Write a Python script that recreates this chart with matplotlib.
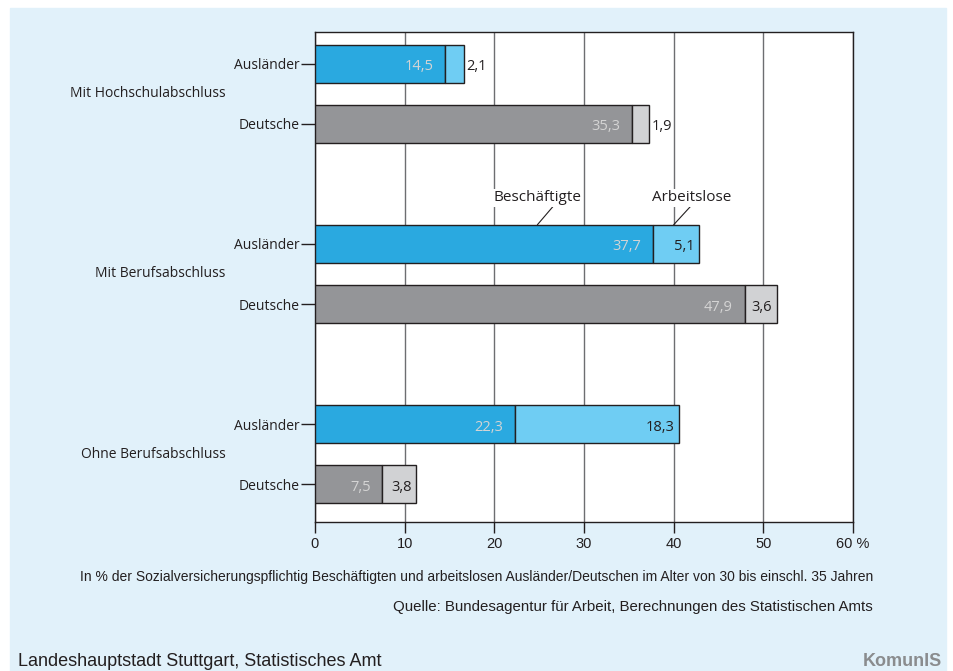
import matplotlib.pyplot as plt
from matplotlib.patches import Rectangle

plt.rcParams['font.family'] = ['Open Sans', 'DejaVu Sans']

# Daten
gruppen = ['Mit Hochschulabschluss', 'Mit Berufsabschluss', 'Ohne Berufsabschluss']
herkunft = ['Ausländer', 'Deutsche']
beschaeftigte = [[14.5, 35.3], [37.7, 47.9], [22.3, 7.5]]
arbeitslose = [[2.1, 1.9], [5.1, 3.6], [18.3, 3.8]]
xticks = [0, 10, 20, 30, 40, 50, 60]
xticklabels = ['0', '10', '20', '30', '40', '50', '60 %']

farbe_besch = {'Ausländer': '#2aa9e0', 'Deutsche': '#949598'}
farbe_alos = {'Ausländer': '#6fcdf3', 'Deutsche': '#d1d2d4'}

narrow = ['Liberation Sans', 'DejaVu Sans']

fig = plt.figure(figsize=(9.54, 6.71), dpi=100)
fig.patches.append(Rectangle((10 / 954, 0), 936 / 954, 663 / 671,
                             transform=fig.transFigure, color='#e1f1fa', zorder=-10))
ax = fig.add_axes([315 / 954, 1 - 522 / 671, 538 / 954, 490 / 671])
ax.set_facecolor('white')

ypos = []
ylab = []
for g in range(len(gruppen)):
    for m in range(len(herkunft)):
        y = g * 3 + m
        ypos.append(y)
        ylab.append(herkunft[m])
        b = beschaeftigte[g][m]
        a = arbeitslose[g][m]
        h = herkunft[m]
        ax.barh(y, b, height=0.64, color=farbe_besch[h], edgecolor='#231f20', linewidth=1, zorder=3)
        ax.barh(y, a, left=b, height=0.64, color=farbe_alos[h], edgecolor='#231f20', linewidth=1, zorder=3)
        ax.text(b - 1.3, y + 0.05, f'{b:.1f}'.replace('.', ','), ha='right', va='center',
                color='#d4d4d4', fontsize=10.5, zorder=4)
        lab = f'{a:.1f}'.replace('.', ',')
        if a < 3:
            ax.text(b + a + 0.3, y + 0.05, lab, ha='left', va='center', fontsize=10.5, color='#231f20', zorder=4)
        else:
            ax.text(b + a - 0.5, y + 0.05, lab, ha='right', va='center', fontsize=10.5, color='#231f20', zorder=4)
    ax.text(-10, g * 3 + 0.5, gruppen[g], ha='right', va='center', fontsize=10,
            color='#231f20', transform=ax.transData, clip_on=False)

ax.set_xlim(0, 60)
ax.set_ylim(7.63, -0.53)
ax.set_yticks(ypos)
ax.set_yticklabels(ylab, fontsize=10, color='#231f20')
ax.set_xticks(xticks)
ax.set_xticklabels(xticklabels, fontsize=10.5, color='#231f20', family=narrow)
ax.tick_params(axis='y', length=10, width=1, color='#231f20', pad=1)
ax.tick_params(axis='x', length=8, width=1, color='#231f20', pad=3)
ax.grid(axis='x', color='#6d6e71', linewidth=1, zorder=0)
for s in ax.spines.values():
    s.set_color('#231f20')
    s.set_linewidth(1)

# Beschriftungen Beschäftigte / Arbeitslose
ax.annotate('Beschäftigte', xy=(24.8, 2.68), xytext=(24.8, 2.23), ha='center', va='center',
            fontsize=11, color='#231f20', zorder=5,
            bbox=dict(facecolor='white', edgecolor='none', pad=1),
            arrowprops=dict(arrowstyle='-', color='#231f20', lw=0.8,
                            shrinkA=0, shrinkB=0, relpos=(0.69, 0)))
ax.annotate('Arbeitslose', xy=(40.0, 2.68), xytext=(42.0, 2.23), ha='center', va='center',
            fontsize=11, color='#231f20', zorder=5,
            bbox=dict(facecolor='white', edgecolor='none', pad=1),
            arrowprops=dict(arrowstyle='-', color='#231f20', lw=0.8,
                            shrinkA=0, shrinkB=0, relpos=(0.5, 0)))

fig.text(873 / 954, 1 - 577 / 671,
         'In % der Sozialversicherungspflichtig Beschäftigten und arbeitslosen Ausländer/Deutschen im Alter von 30 bis einschl. 35 Jahren',
         ha='right', va='center', fontsize=10, color='#231f20', family=narrow)
fig.text(873 / 954, 1 - 607 / 671,
         'Quelle: Bundesagentur für Arbeit, Berechnungen des Statistischen Amts',
         ha='right', va='center', fontsize=10.8, color='#231f20', family=narrow)
fig.text(18 / 954, 1 - 662 / 671, 'Landeshauptstadt Stuttgart, Statistisches Amt',
         ha='left', va='center', fontsize=13, color='#231f20', family=narrow)
fig.text(942 / 954, 1 - 661 / 671, 'KomunIS', ha='right', va='center', fontsize=13,
         fontweight='bold', color='#8a8c8e', family=narrow)

fig.savefig('out.png', dpi=100)
